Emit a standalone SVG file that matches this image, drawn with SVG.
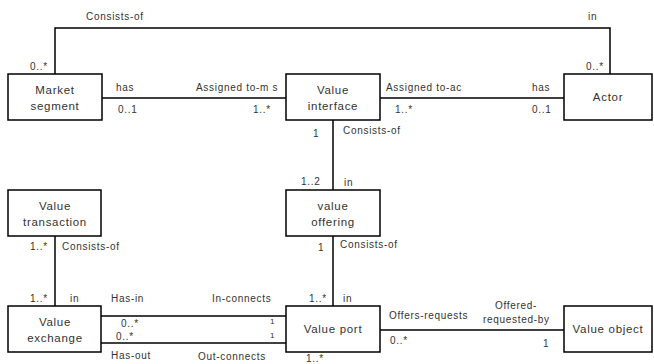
<svg xmlns="http://www.w3.org/2000/svg" width="654" height="364" viewBox="0 0 654 364">
<style>
.box{fill:#fff;stroke:#000;stroke-width:1.5}
.ln{fill:none;stroke:#000;stroke-width:1.5}
text{font-family:"Liberation Sans",Arial,sans-serif;fill:#333}
.n{font-size:11.5px;text-anchor:middle;letter-spacing:0.7px}
.l{font-size:10px;letter-spacing:0.7px}
.s{font-size:8px}
</style>
<rect width="654" height="364" fill="#fff"/>
<g id="connectors">
<polyline class="ln" points="55,74 55,28 610,28 610,74"/>
<line class="ln" x1="102" y1="98" x2="286" y2="98"/>
<line class="ln" x1="380" y1="98" x2="564" y2="98"/>
<line class="ln" x1="333" y1="120" x2="333" y2="190"/>
<line class="ln" x1="333" y1="236" x2="333" y2="306"/>
<line class="ln" x1="55" y1="236" x2="55" y2="306"/>
<line class="ln" x1="101" y1="316" x2="286" y2="316"/>
<line class="ln" x1="101" y1="343" x2="286" y2="343"/>
<line class="ln" x1="380" y1="330" x2="564" y2="330"/>
</g>
<g id="labels">
<text class="l" x="86" y="20">Consists-of</text>
<text class="l" x="588" y="20">in</text>
<text class="l" x="30" y="70">0..*</text>
<text class="l" x="586" y="70">0..*</text>
<text class="l" x="116" y="91">has</text>
<text class="l" x="118" y="113">0..1</text>
<text class="l" x="196" y="91">Assigned to-m s</text>
<text class="l" x="253" y="113">1..*</text>
<text class="l" x="386" y="91">Assigned to-ac</text>
<text class="l" x="395" y="113">1..*</text>
<text class="l" x="532" y="91">has</text>
<text class="l" x="532" y="113">0..1</text>
<text class="l" x="313" y="137">1</text>
<text class="l" x="343" y="134">Consists-of</text>
<text class="l" x="301" y="185">1..2</text>
<text class="l" x="344" y="186">in</text>
<text class="l" x="30" y="250">1..*</text>
<text class="l" x="62" y="250">Consists-of</text>
<text class="l" x="318" y="251">1</text>
<text class="l" x="340" y="248">Consists-of</text>
<text class="l" x="30" y="302">1..*</text>
<text class="l" x="70" y="302">in</text>
<text class="l" x="309" y="302">1..*</text>
<text class="l" x="343" y="302">in</text>
<text class="l" x="111" y="302">Has-in</text>
<text class="l" x="212" y="302">In-connects</text>
<text class="l" x="121" y="327">0..*</text>
<text class="s" x="270" y="324">1</text>
<text class="l" x="116" y="340">0..*</text>
<text class="s" x="270" y="338">1</text>
<text class="l" x="111" y="359">Has-out</text>
<text class="l" x="198" y="360">Out-connects</text>
<text class="l" x="306" y="362">1..*</text>
<text class="l" x="389" y="319">Offers-requests</text>
<text class="l" x="495" y="309">Offered-</text>
<text class="l" x="483" y="323">requested-by</text>
<text class="l" x="390" y="344">0..*</text>
<text class="l" x="543" y="347">1</text>
</g>
<g id="market-segment"><rect class="box" x="8" y="74" width="94" height="46"/><text class="n" x="55" y="94">Market</text><text class="n" x="55" y="110">segment</text></g>
<g id="value-interface"><rect class="box" x="286" y="74" width="94" height="46"/><text class="n" x="333" y="94">Value</text><text class="n" x="333" y="110">interface</text></g>
<g id="actor"><rect class="box" x="564" y="74" width="88" height="46"/><text class="n" x="608" y="101">Actor</text></g>
<g id="value-transaction"><rect class="box" x="8" y="190" width="93" height="46"/><text class="n" x="55" y="210">Value</text><text class="n" x="55" y="226">transaction</text></g>
<g id="value-offering"><rect class="box" x="286" y="190" width="94" height="46"/><text class="n" x="333" y="210">value</text><text class="n" x="333" y="226">offering</text></g>
<g id="value-exchange"><rect class="box" x="8" y="306" width="93" height="46"/><text class="n" x="55" y="326">Value</text><text class="n" x="55" y="342">exchange</text></g>
<g id="value-port"><rect class="box" x="286" y="306" width="94" height="46"/><text class="n" x="333" y="333">Value port</text></g>
<g id="value-object"><rect class="box" x="564" y="306" width="88" height="46"/><text class="n" x="608" y="333">Value object</text></g>
</svg>
